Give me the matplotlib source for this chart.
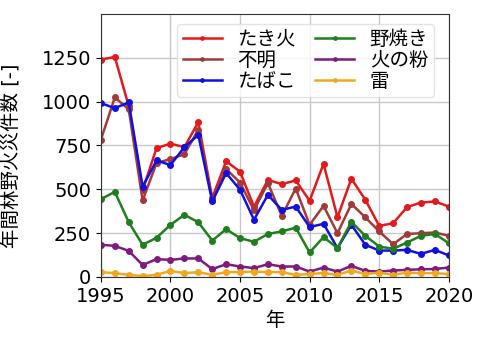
import matplotlib
matplotlib.use("Agg")
import matplotlib.pyplot as plt

plt.rcParams['font.family'] = ['DejaVu Sans', 'Noto Sans CJK JP']

years = list(range(1995, 2021))
takibi = [1240, 1255, 975, 495, 735, 760, 740, 883, 450, 660, 600, 400, 553, 529, 550, 434, 645, 340, 560, 440, 291, 306, 398, 424, 430, 401]
fumei = [782, 1024, 956, 436, 650, 672, 700, 839, 440, 615, 538, 380, 535, 348, 504, 297, 405, 249, 416, 340, 259, 186, 245, 249, 253, 234]
tabako = [991, 963, 995, 515, 664, 638, 740, 810, 430, 592, 497, 326, 468, 382, 401, 284, 303, 164, 297, 183, 150, 150, 154, 131, 154, 122]
noyaki = [443, 485, 312, 183, 223, 297, 354, 312, 207, 272, 221, 200, 245, 259, 281, 139, 227, 164, 314, 234, 173, 160, 196, 234, 245, 192]
hinoko = [183, 177, 148, 68, 101, 97, 105, 105, 44, 72, 59, 50, 72, 59, 59, 30, 53, 30, 63, 34, 30, 36, 40, 43, 45, 53]
kaminari = [27, 21, 11, 5, 11, 34, 21, 27, 11, 27, 27, 30, 27, 27, 11, 16, 22, 11, 36, 16, 24, 11, 24, 21, 21, 16]

series = [
    ("たき火", takibi, "#e31a1c"),
    ("不明", fumei, "#a33a3a"),
    ("たばこ", tabako, "#1010e0"),
    ("野焼き", noyaki, "#1f7f1f"),
    ("火の粉", hinoko, "#7f1a7f"),
    ("雷", kaminari, "#f0a820"),
]

fig = plt.figure(figsize=(4.97, 3.5), dpi=100)
ax = fig.add_axes([0.203, 0.209, 0.70, 0.751])

for name, vals, col in series:
    ax.plot(years, vals, marker='.', markersize=8, linewidth=1.8, color=col, label=name)

ax.set_xlim(1995, 2020)
ax.set_ylim(0, 1500)
ax.set_yticks([0, 250, 500, 750, 1000, 1250])
ax.set_xticks([1995, 2000, 2005, 2010, 2015, 2020])
ax.tick_params(labelsize=14)
ax.grid(True, color='#c8c8c8', linewidth=1)
for s in ax.spines.values():
    s.set_color('#333333')
ax.set_xlabel("年", fontsize=14)
ax.set_ylabel("年間林野火災件数 [-]", fontsize=14)
ax.yaxis.set_label_coords(-0.23, 0.46)

leg = ax.legend(ncol=2, loc='upper right', fontsize=14, markerscale=0.6,
                handlelength=2.0, borderpad=0.3, labelspacing=0.12,
                columnspacing=1.0, handletextpad=0.8, frameon=True,
                bbox_to_anchor=(0.985, 1.0))
leg.get_frame().set_edgecolor('#dddddd')

fig.savefig("out.png", dpi=100)
